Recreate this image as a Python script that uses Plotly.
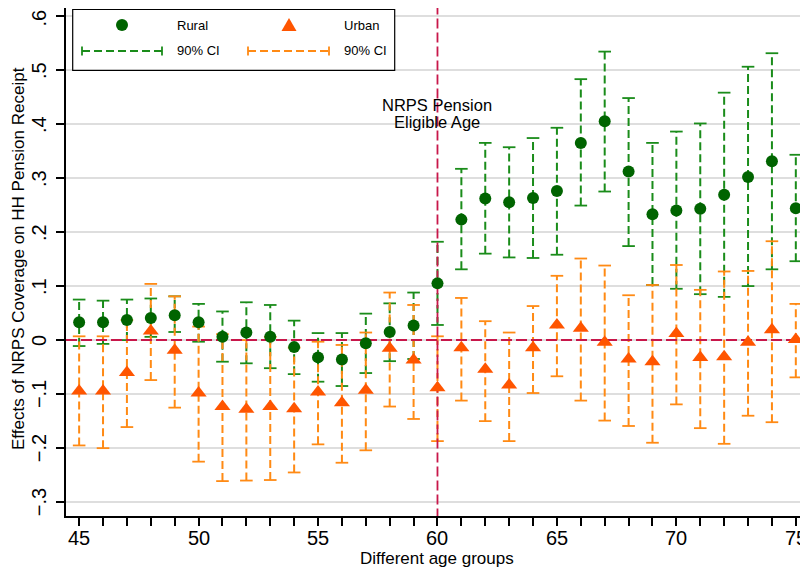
import plotly.graph_objects as go

# ---------------- data ----------------
ages = list(range(45, 76))

rural_coef = [0.033, 0.033, 0.037, 0.041, 0.046, 0.033, 0.006, 0.014, 0.006, -0.013,
              -0.032, -0.036, -0.006, 0.015, 0.027, 0.105, 0.223, 0.262, 0.255, 0.263,
              0.276, 0.365, 0.405, 0.312, 0.233, 0.240, 0.243, 0.269, 0.302, 0.331, 0.244]
rural_hi = [0.075, 0.073, 0.075, 0.077, 0.081, 0.067, 0.053, 0.070, 0.065, 0.036,
            0.013, 0.013, 0.049, 0.068, 0.088, 0.182, 0.317, 0.365, 0.357, 0.374,
            0.393, 0.483, 0.534, 0.448, 0.365, 0.386, 0.401, 0.458, 0.506, 0.531, 0.343]
rural_lo = [-0.011, -0.007, 0.000, 0.006, 0.015, -0.003, -0.040, -0.043, -0.052, -0.063,
            -0.077, -0.085, -0.061, -0.039, -0.035, 0.028, 0.131, 0.160, 0.153, 0.152,
            0.158, 0.249, 0.275, 0.174, 0.102, 0.095, 0.085, 0.080, 0.100, 0.131, 0.146]

urban_coef = [-0.094, -0.094, -0.060, 0.017, -0.019, -0.098, -0.123, -0.128, -0.123, -0.127,
              -0.096, -0.116, -0.093, -0.015, -0.037, -0.088, -0.014, -0.054, -0.083, -0.014,
              0.028, 0.022, -0.004, -0.035, -0.040, 0.012, -0.032, -0.031, -0.004, 0.019, 0.001]
urban_hi = [0.007, 0.007, 0.037, 0.104, 0.081, 0.025, 0.011, 0.000, 0.006, -0.014,
            -0.003, -0.009, 0.014, 0.088, 0.065, 0.007, 0.078, 0.035, 0.014, 0.063,
            0.119, 0.151, 0.138, 0.083, 0.102, 0.139, 0.093, 0.127, 0.128, 0.183, 0.067]
urban_lo = [-0.195, -0.200, -0.161, -0.074, -0.125, -0.225, -0.261, -0.260, -0.259, -0.245,
            -0.193, -0.227, -0.204, -0.123, -0.146, -0.187, -0.112, -0.150, -0.187, -0.098,
            -0.067, -0.112, -0.149, -0.159, -0.190, -0.119, -0.163, -0.192, -0.140, -0.152, -0.069]

y_tickvals = [0.6, 0.5, 0.4, 0.3, 0.2, 0.1, 0.0, -0.1, -0.2, -0.3]
y_ticktext = [".6", ".5", ".4", ".3", ".2", ".1", "0", "\u2212.1", "\u2212.2", "\u2212.3"]
x_major = [45, 50, 55, 60, 65, 70, 75]
x_major_text = ["45", "50", "55", "60", "65", "70", "75"]
eligible_age = 60

legend_labels = ["Rural", "Urban", "90% CI", "90% CI"]
annotation_lines = ["NRPS Pension", "Eligible Age"]
x_title = "Different age groups"
y_title = "Effects of NRPS Coverage on HH Pension Receipt"

# ---------------- style ----------------
FONT = "Liberation Sans, Arial, Helvetica, sans-serif"
G_MARK = "#006400"
G_CI = "#1a8c1a"
O_MARK = "#ff5500"
O_CI = "#ff8a14"
REF = "#c8174a"

# the page body adds an 8px offset; the figure is sized to end at the window edge
OFF = 8
W, H = 808 - OFF, 571 - OFF
ML, MR, MT, MB = 66 - OFF, 0, 0, 55
PW, PH = W - ML - MR, H - MT - MB
PLOT_BOTTOM_PAGE = OFF + MT + PH  # 516


def px(x):
    """window x pixel -> paper fraction"""
    return (x - OFF - ML) / PW


def py(y):
    """window y pixel -> paper fraction"""
    return (PLOT_BOTTOM_PAGE - y) / PH


def ci_path(xs, lo, hi):
    X, Y = [], []
    for a, l, h in zip(xs, lo, hi):
        X += [a, a, None]
        Y += [l, h, None]
    return X, Y


fig = go.Figure()

for lo, hi, col in [(rural_lo, rural_hi, G_CI), (urban_lo, urban_hi, O_CI)]:
    X, Y = ci_path(ages, lo, hi)
    fig.add_trace(go.Scatter(x=X, y=Y, mode="lines",
                             line=dict(color=col, width=2, dash="8px,4px"),
                             hoverinfo="skip", showlegend=False))
    fig.add_trace(go.Scatter(x=ages + ages, y=lo + hi, mode="markers",
                             marker=dict(symbol="line-ew", size=9,
                                         line=dict(color=col, width=1.8)),
                             hoverinfo="skip", showlegend=False))

# reference lines (below markers)
fig.add_trace(go.Scatter(x=[44.45, 75.6], y=[0, 0], mode="lines",
                         line=dict(color=REF, width=2, dash="11px,4px"),
                         hoverinfo="skip", showlegend=False))
fig.add_trace(go.Scatter(x=[eligible_age, eligible_age], y=[-0.33, 0.64], mode="lines",
                         line=dict(color=REF, width=1.8, dash="10px,4px"),
                         hoverinfo="skip", showlegend=False))

fig.add_trace(go.Scatter(x=ages, y=rural_coef, mode="markers", name="Rural",
                         marker=dict(symbol="circle", size=12, color=G_MARK,
                                     line=dict(width=0)),
                         showlegend=False))
fig.add_trace(go.Scatter(x=ages, y=urban_coef, mode="markers", name="Urban",
                         marker=dict(symbol="triangle-up", size=14, color=O_MARK,
                                     line=dict(width=0)),
                         showlegend=False))

shapes = []
annotations = []

# ---- manual legend ----
shapes.append(dict(type="rect", xref="paper", yref="paper",
                   x0=px(72.7), x1=px(394.7), y0=py(70.3), y1=py(9.5),
                   line=dict(color="black", width=1.2), fillcolor="white", layer="above"))
shapes.append(dict(type="circle", xref="paper", yref="paper",
                   x0=px(116), x1=px(128), y0=py(31), y1=py(19),
                   line=dict(width=0), fillcolor=G_MARK, layer="above"))
tx, ty = 289, 25
shapes.append(dict(type="path", xref="paper", yref="paper",
                   path=f"M {px(tx-7.5)} {py(ty+6)} L {px(tx+7.5)} {py(ty+6)} L {px(tx)} {py(ty-7)} Z",
                   line=dict(width=0), fillcolor=O_MARK, layer="above"))
for x0, x1, col in [(82, 162, G_CI), (248, 329, O_CI)]:
    shapes.append(dict(type="line", xref="paper", yref="paper",
                       x0=px(x0), x1=px(x1), y0=py(51), y1=py(51),
                       line=dict(color=col, width=2, dash="8px,4px"), layer="above"))
    for xe in (x0, x1):
        shapes.append(dict(type="line", xref="paper", yref="paper",
                           x0=px(xe), x1=px(xe), y0=py(46.5), y1=py(55.5),
                           line=dict(color=col, width=1.8), layer="above"))
for lbl, lx, ly in zip(legend_labels, [175, 342, 175, 342], [25, 25, 51, 51]):
    annotations.append(dict(text=lbl, xref="paper", yref="paper", x=px(lx), y=py(ly),
                            xanchor="left", yanchor="middle", showarrow=False,
                            font=dict(family=FONT, size=13, color="black")))

# ---- text annotation ----
for i, t in enumerate(annotation_lines):
    annotations.append(dict(text=t, x=eligible_age, xref="x", yref="paper",
                            y=py(105 + 17 * i), xanchor="center", yanchor="middle",
                            showarrow=False,
                            font=dict(family=FONT, size=16.5, color="black")))

# ---- x tick labels (placed closer to the axis than plotly's default) ----
for v, t in zip(x_major, x_major_text):
    annotations.append(dict(text=t, x=v, xref="x", yref="paper", y=py(537.5),
                            xanchor="center", yanchor="middle", showarrow=False,
                            font=dict(family=FONT, size=20, color="black")))

# ---- y tick labels (rotated, as in the original) ----
for v, t in zip(y_tickvals, y_ticktext):
    annotations.append(dict(text=t, x=px(39), xref="paper", yref="y", y=v,
                            yshift=-1.5 if v == max(y_tickvals) else 0,
                            xanchor="center", yanchor="middle", textangle=-90,
                            showarrow=False,
                            font=dict(family=FONT, size=20, color="black")))

# ---- axis titles ----
annotations.append(dict(text=x_title, xref="paper", yref="paper", x=px(437), y=py(558),
                        xanchor="center", yanchor="middle", showarrow=False,
                        font=dict(family=FONT, size=17, color="black")))
annotations.append(dict(text=y_title, xref="paper", yref="paper", x=px(18), y=py(259),
                        xanchor="center", yanchor="middle", textangle=-90, showarrow=False,
                        font=dict(family=FONT, size=17, color="black")))

fig.update_layout(
    width=W, height=H,
    margin=dict(l=ML, r=MR, t=MT, b=MB, pad=0),
    paper_bgcolor="white", plot_bgcolor="white",
    font=dict(family=FONT, color="black"),
    showlegend=False,
    shapes=shapes, annotations=annotations,
    xaxis=dict(range=[44.45, 75.51], tickvals=ages, showticklabels=False,
               ticks="outside", ticklen=8, tickwidth=1.5, tickcolor="black",
               showline=True, linecolor="black", linewidth=1.5,
               showgrid=False, zeroline=False, automargin=False),
    yaxis=dict(range=[-0.3256, 0.6147], tickvals=y_tickvals, showticklabels=False,
               ticks="outside", ticklen=8, tickwidth=1.5, tickcolor="black",
               showline=True, linecolor="black", linewidth=1.5,
               showgrid=True, gridcolor="#dedede", gridwidth=1.5, zeroline=False,
               automargin=False),
)

fig.write_html("out.html")
